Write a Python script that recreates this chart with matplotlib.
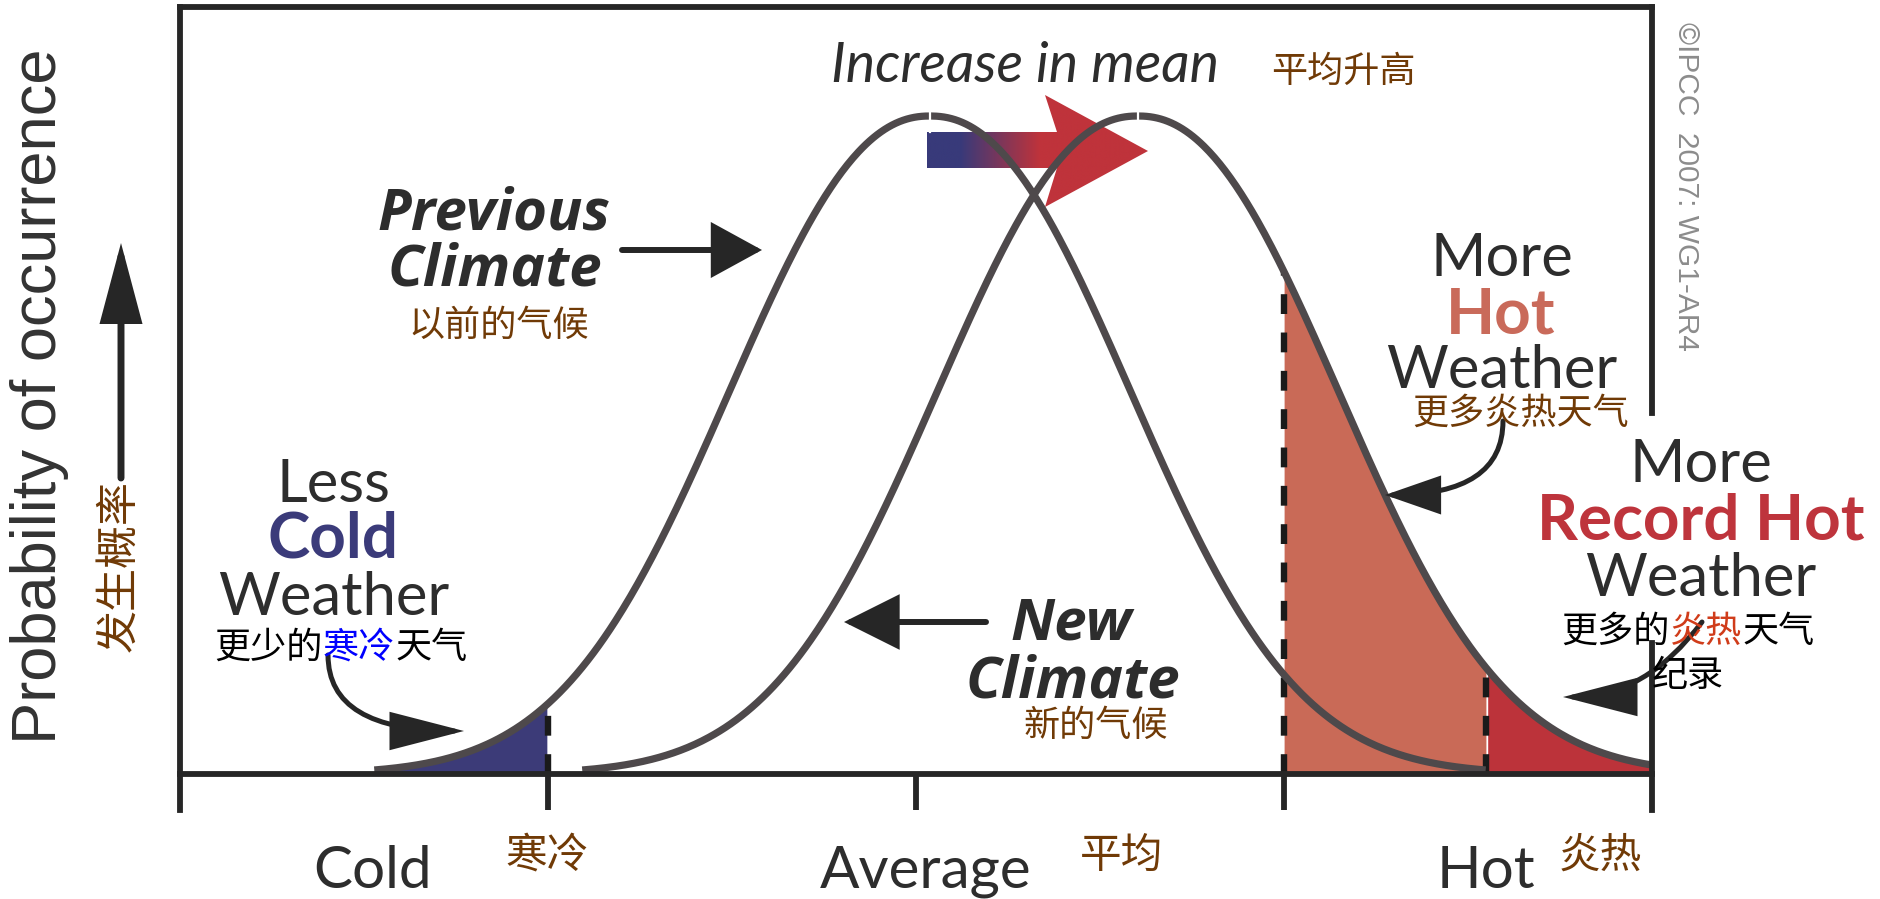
import numpy as np
import matplotlib
matplotlib.use("Agg")
import matplotlib.pyplot as plt
from matplotlib.patches import FancyArrowPatch, Polygon, ArrowStyle
from matplotlib.colors import LinearSegmentedColormap

# ------------------------- data -------------------------
tick_positions = [-2, -1, 0, 1, 2]
xlabels_en = ["Cold", "Average", "Hot"]
xlabels_zh = ["寒冷", "平均", "炎热"]
climate_names = ["Previous", "New"]
climate_means = [0.038, 0.603]      # centre of each distribution
climate_spread = 0.72               # width parameter
climate_shape = 2.2                 # exponent of the bell shape
climate_halfspan = 1.51             # how far the drawn curve reaches from its mean
cold_threshold = -1.0
hot_threshold = 1.0
record_threshold = 1.55
x_right_edge = 2.0

# ------------------------- layout helpers -------------------------
W, H = 1881, 899
CX, SX = 916.0, 368.0       # pixel of x=0, pixels per x unit
BY, SY = 774.0, 658.0       # pixel of y=0, pixels per y unit


def P(px, py):
    return ((px - CX) / SX, (BY - py) / SY)


def bell(x, m):
    return np.exp(-(np.abs(x - m) / climate_spread) ** climate_shape)


DARK = "#2d2d2d"
CURVE = "#4e494b"
BROWN = "#703a06"
EN = "Lato"
EN_BI = "Open Sans"
CJK = ["Noto Sans CJK SC", "DejaVu Sans"]

fig = plt.figure(figsize=(W / 100, H / 100), dpi=100)
ax = fig.add_axes([0, 0, 1, 1])
x0, y1 = P(0, 0)
x1, y0 = P(W, H)
ax.set_xlim(x0, x1)
ax.set_ylim(y0, y1)
ax.axis("off")

# ------------------------- curves & fills -------------------------
m_prev, m_new = climate_means
xp = np.linspace(m_prev - climate_halfspan, m_prev + climate_halfspan, 600)
xn = np.linspace(m_new - climate_halfspan, x_right_edge, 600)
yp = bell(xp, m_prev)
yn = bell(xn, m_new)

mask_cold = xp <= cold_threshold
ax.fill_between(xp[mask_cold], 0, yp[mask_cold], color="#3c3b78", lw=0, zorder=1)
mask_hot = (xn >= hot_threshold) & (xn <= record_threshold)
ax.fill_between(xn[mask_hot], 0, yn[mask_hot], color="#c96a57", lw=0, zorder=1)
mask_rec = xn >= record_threshold
ax.fill_between(xn[mask_rec], 0, yn[mask_rec], color="#bc333a", lw=0, zorder=1)

for xv, m in [(cold_threshold, m_prev), (hot_threshold, m_new), (record_threshold, m_new)]:
    ax.plot([xv, xv], [0, bell(xv, m)], color="#1a1a1a", lw=4.6,
            linestyle=(0, (3.1, 2.9)), zorder=2)

# gradient arrow "increase in mean"
verts = [P(927, 132), P(1057, 132), P(1045, 95), P(1148, 151),
         P(1045, 207), P(1057, 168), P(927, 168)]
poly = Polygon(verts, closed=True, facecolor="none", edgecolor="none")
ax.add_patch(poly)
gx = np.linspace(P(927, 0)[0], P(1148, 0)[0], 300)
b0, b1 = P(960, 0)[0], P(1040, 0)[0]
grad = np.clip((gx - b0) / (b1 - b0), 0, 1)[None, :]
cmap = LinearSegmentedColormap.from_list("br", ["#383a7a", "#bf333b"])
im = ax.imshow(grad, cmap=cmap, aspect="auto", interpolation="bilinear",
               extent=[gx[0], gx[-1], P(0, 207)[1], P(0, 95)[1]], zorder=2)
im.set_clip_path(poly)

ax.plot(xp, yp, color=CURVE, lw=5.2, solid_capstyle="butt", zorder=3)
ax.plot(xn, yn, color=CURVE, lw=5.2, solid_capstyle="butt", zorder=3)
for m in climate_means:
    ax.plot([m, m], [0.975, 1.03], color="white", lw=1.6, zorder=4)

# ------------------------- frame -------------------------
top = P(0, 7)[1]
tick_bottom = P(0, 810)[1]
right_top_end = P(0, 413)[1]
right_bot_start = P(0, 643)[1]
fl = dict(color="#262626", lw=4.2, solid_capstyle="projecting", zorder=4)
ax.plot([tick_positions[0], tick_positions[-1]], [top, top], **fl)
ax.plot([tick_positions[0], tick_positions[0]], [tick_bottom, top], **fl)
ax.plot([tick_positions[-1], tick_positions[-1]], [right_top_end, top], **fl)
ax.plot([tick_positions[-1], tick_positions[-1]], [tick_bottom, right_bot_start], **fl)
ax.plot([tick_positions[0], tick_positions[-1]], [0, 0], **fl)
for t in tick_positions[1:-1]:
    ax.plot([t, t], [tick_bottom, 0], color="#262626", lw=4.2, solid_capstyle="butt", zorder=4)

# ------------------------- arrows -------------------------
def arrow(pa, pb, hl, hw, lw, conn="arc3,rad=0"):
    st = ArrowStyle("-|>", head_length=hl * 0.72, head_width=hw * 0.72)
    a = FancyArrowPatch(P(*pa), P(*pb), arrowstyle=st, mutation_scale=1,
                        connectionstyle=conn, lw=lw, color="#262626",
                        shrinkA=0, shrinkB=0, zorder=5, joinstyle="miter")
    ax.add_patch(a)

arrow((121, 478), (121, 243), 64, 17, 5.0)           # y axis
arrow((622, 250), (762, 250), 42, 23, 4.3)           # previous climate
arrow((986, 622), (844, 622), 46, 23, 4.3)           # new climate
arrow((328, 655), (464, 731), 62, 16, 3.6, "angle3,angleA=90,angleB=0")    # less cold
arrow((1503, 421), (1385, 495), 46, 16, 3.6, "angle3,angleA=90,angleB=0")  # more hot
arrow((1702, 622), (1563, 697), 62, 16, 3.6, "angle3,angleA=53,angleB=0")  # record hot

# ------------------------- texts -------------------------
def en(px, py, s, size, color=DARK, weight="normal", style="normal", ha="center", family=EN):
    ax.text(*P(px, py), s, fontsize=size, color=color, fontweight=weight,
            fontstyle=style, family=family, ha=ha, va="baseline", zorder=6)


def zh(px, py, segments, size=26, **kw):
    n = sum(len(s) for s, _ in segments)
    cw = size * 100 / 72.0
    left = px - n * cw / 2
    for s, c in segments:
        ax.text(*P(left, py), s, fontsize=size, color=c, family=CJK,
                ha="left", va="center", zorder=6, **kw)
        left += len(s) * cw

en(1025, 82, "Increase in mean", 40, style="italic")
zh(1343, 72, [("平均升高", BROWN)])

en(494, 230, "Previous", 42, weight="bold", style="italic", family=EN_BI)
en(495, 286, "Climate", 42, weight="bold", style="italic", family=EN_BI)
zh(499, 326, [("以前的气候", BROWN)])

en(1502, 276, "More", 43)
en(1501, 334, "Hot", 46, color="#c96a5a", weight="bold")
en(1502, 388, "Weather", 43)
zh(1521, 414, [("更多炎热天气", BROWN)])

en(1701, 482, "More", 43)
en(1701, 539, "Record Hot", 46, color="#be343c", weight="bold")
en(1701, 596, "Weather", 43)
zh(1688, 632, [("更多的", "black"), ("炎热", "#d03c1a"), ("天气", "black")])
zh(1688, 676, [("纪录", "black")])

en(334, 502, "Less", 43)
en(333, 558, "Cold", 46, color="#3b3b7a", weight="bold")
en(334, 615, "Weather", 43)
zh(341, 648, [("更少的", "black"), ("寒冷", "#0000ff"), ("天气", "black")])

en(1071, 640, "New", 42, weight="bold", style="italic", family=EN_BI)
en(1073, 697, "Climate", 42, weight="bold", style="italic", family=EN_BI)
zh(1096, 726, [("新的气候", BROWN)])

en_pos = [373, 926, 1486]
zh_pos = [547, 1122, 1600]
for s, p in zip(xlabels_en, en_pos):
    en(p, 888, s, 42)
for s, p in zip(xlabels_zh, zh_pos):
    zh(p, 856, [(s, BROWN)], size=30)

ax.text(*P(40, 396), "Probability of occurrence", fontsize=45.5, color="#333333",
        family="Liberation Sans", rotation=90, ha="center", va="center")
ax.text(*P(119, 566), "发生概率", fontsize=31, color=BROWN, family=CJK,
        rotation=90, ha="center", va="center")
ax.text(*P(1686, 186), "©IPCC  2007: WG1-AR4", fontsize=21.5, color="#8c8c8c",
        family="Liberation Sans", rotation=270, ha="center", va="center")

fig.savefig("out.png", dpi=100)
